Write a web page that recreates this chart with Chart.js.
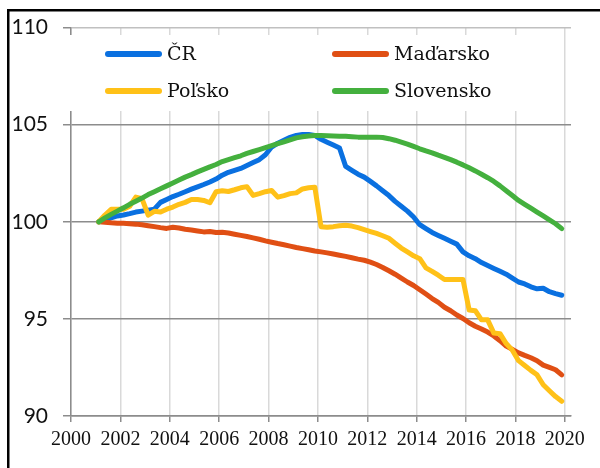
<!DOCTYPE html>
<html lang="sk">
<head>
  <meta charset="UTF-8">
  <title>Index</title>
  <script src="https://cdn.jsdelivr.net/npm/chart.js"></script>
  <style>
    body { margin: 0; background: #fff; }
    #wrap { width: 600px; height: 468px; }
  </style>
</head>
<body>
  <div id="wrap"><canvas id="chart" width="600" height="468"></canvas></div>

  <script>
    // štvrťroky 2001Q1 .. 2019Q4 (bod v strede štvrťroka)
    const years = [2001, 2002, 2003, 2004, 2005, 2006, 2007, 2008, 2009, 2010,
                   2011, 2012, 2013, 2014, 2015, 2016, 2017, 2018, 2019];
    const quarters = [];
    years.forEach(y => { for (let q = 0; q < 4; q++) quarters.push(y + (q + 0.5) / 4); });

    const xTicks = [2000, 2002, 2004, 2006, 2008, 2010, 2012, 2014, 2016, 2018, 2020];
    const yTicks = [90, 95, 100, 105, 110];

    const seriesNames = ['ČR', 'Maďarsko', 'Poľsko', 'Slovensko'];
    const seriesColors = ['#0a70e0', '#e04f14', '#ffc118', '#44b03e'];

    const cr = [
      100.0, 100.1, 100.2, 100.3,   100.35, 100.42, 100.5, 100.55,
      100.6, 100.65, 101.0, 101.15,  101.3, 101.42, 101.55, 101.68,
      101.8, 101.92, 102.05, 102.2,  102.4, 102.55, 102.65, 102.75,
      102.9, 103.05, 103.2, 103.45,  103.85, 104.05, 104.2, 104.35,
      104.45, 104.5, 104.5, 104.45,  104.25, 104.1, 103.95, 103.8,
      102.85, 102.65, 102.45, 102.3,  102.08, 101.85, 101.6, 101.35,
      101.05, 100.8, 100.55, 100.25,  99.85, 99.65, 99.45, 99.3,
      99.15, 99.0, 98.85, 98.45,  98.25, 98.1, 97.9, 97.75,
      97.6, 97.45, 97.3, 97.1,  96.9, 96.8, 96.65, 96.55,
      96.58, 96.4, 96.3, 96.22
    ];
    const madarsko = [
      100.0, 99.98, 99.95, 99.93,  99.92, 99.9, 99.88, 99.85,
      99.8, 99.75, 99.7, 99.66,  99.72, 99.68, 99.62, 99.58,
      99.53, 99.48, 99.5, 99.45,  99.46, 99.42, 99.36, 99.3,
      99.24, 99.17, 99.1, 99.02,  98.95, 98.88, 98.82, 98.75,
      98.68, 98.62, 98.56, 98.5,  98.45, 98.4, 98.34, 98.28,
      98.22, 98.15, 98.08, 98.02,  97.92, 97.8, 97.65, 97.48,
      97.3, 97.1, 96.9, 96.72,  96.5, 96.28, 96.05, 95.85,
      95.6, 95.42, 95.2, 95.02,  94.8, 94.62, 94.48, 94.32,
      94.12, 93.88, 93.6, 93.43,  93.25, 93.12, 93.0, 92.85,
      92.62, 92.5, 92.38, 92.12
    ];
    const polsko = [
      100.0, 100.35, 100.64, 100.64,  100.64, 100.8, 101.27, 101.19,
      100.34, 100.54, 100.5, 100.65,  100.76, 100.9, 101.0, 101.15,
      101.15, 101.1, 100.98, 101.55,  101.6, 101.56, 101.65, 101.75,
      101.81, 101.36, 101.45, 101.55,  101.61, 101.27, 101.35, 101.45,
      101.49, 101.69, 101.75, 101.78,  99.75, 99.72, 99.75, 99.8,
      99.82, 99.78, 99.7, 99.6,  99.5, 99.4, 99.28, 99.15,
      98.9, 98.65, 98.45, 98.25,  98.1, 97.63, 97.45, 97.25,
      97.03, 97.03, 97.03, 97.03,  95.46, 95.42, 94.95, 94.95,
      94.27, 94.24, 93.73, 93.39,  92.85, 92.6, 92.35, 92.12,
      91.61, 91.3, 91.0, 90.76
    ];
    const slovensko = [
      100.0, 100.2, 100.38, 100.55,  100.72, 100.9, 101.06, 101.22,
      101.4, 101.55, 101.7, 101.85,  102.0, 102.15, 102.3, 102.43,
      102.57, 102.7, 102.83, 102.95,  103.1, 103.2, 103.3, 103.4,
      103.52, 103.62, 103.72, 103.82,  103.92, 104.02, 104.12, 104.22,
      104.32, 104.38, 104.42, 104.44,  104.44, 104.43, 104.42, 104.41,
      104.4, 104.38, 104.36, 104.35,  104.35, 104.36, 104.34, 104.28,
      104.2, 104.1, 104.0, 103.88,  103.76, 103.65, 103.55, 103.43,
      103.32, 103.2, 103.07, 102.93,  102.78, 102.62, 102.45, 102.27,
      102.08, 101.85, 101.6, 101.35,  101.1, 100.9, 100.7, 100.5,
      100.3, 100.1, 99.9, 99.65
    ];
    const seriesValues = [cr, madarsko, polsko, slovensko];

    // legenda vnútri grafu, na bielom pozadí
    const legendInside = {
      id: 'legendInside',
      beforeDatasetsDraw(chart) {
        const ctx = chart.ctx;
        const a = chart.chartArea;
        ctx.save();
        ctx.fillStyle = '#fff';
        ctx.fillRect(a.left - 1, 35, 480, 76);
        const cols = [37, 264];
        const rows = [54, 91];
        chart.data.datasets.forEach((ds, i) => {
          const x = a.left + cols[i % 2];
          const y = rows[Math.floor(i / 2)];
          ctx.strokeStyle = ds.borderColor;
          ctx.lineWidth = 6;
          ctx.lineCap = 'round';
          ctx.beginPath();
          ctx.moveTo(x, y);
          ctx.lineTo(x + 51, y);
          ctx.stroke();
          ctx.fillStyle = '#111';
          ctx.font = '19px "DejaVu Serif"';
          ctx.textBaseline = 'middle';
          ctx.fillText(ds.label, x + 59, y + 1);
        });
        ctx.restore();
      }
    };

    // rámik okolo obrázka
    const frame = {
      id: 'frame',
      afterDraw(chart) {
        const ctx = chart.ctx;
        ctx.save();
        ctx.fillStyle = '#000';
        ctx.fillRect(7, 9, 593, 2.5);
        ctx.fillRect(7, 9, 2.5, 459);
        ctx.restore();
      }
    };

    new Chart(document.getElementById('chart'), {
      type: 'line',
      data: {
        datasets: seriesNames.map((name, i) => ({
          label: name,
          data: quarters.map((q, j) => ({ x: q, y: seriesValues[i][j] })),
          borderColor: seriesColors[i],
          backgroundColor: seriesColors[i],
          borderWidth: 5,
          borderCapStyle: 'round',
          borderJoinStyle: 'round',
          pointRadius: 0,
          tension: 0,
          order: 4 - i
        }))
      },
      options: {
        responsive: false,
        animation: false,
        layout: { padding: { left: 0, right: 29, top: 24, bottom: 0 } },
        plugins: { legend: { display: false }, tooltip: { enabled: false } },
        scales: {
          x: {
            type: 'linear',
            min: 2000,
            max: 2020.25,
            afterBuildTicks: s => { s.ticks = xTicks.map(v => ({ value: v })); },
            afterFit: s => { s.height = 52; },
            grid: { color: '#d9d9d9', lineWidth: 1.5, tickColor: '#8c8c8c', tickLength: 6 },
            border: { color: '#8c8c8c', width: 1.5 },
            ticks: {
              color: '#111',
              font: { family: 'Liberation Serif', size: 20 },
              padding: 6,
              maxRotation: 0,
              callback: v => String(v)
            }
          },
          y: {
            min: 90,
            max: 110,
            afterBuildTicks: s => { s.ticks = yTicks.map(v => ({ value: v })); },
            afterFit: s => { s.width = 71; },
            grid: {
              color: c => (c.tick && c.tick.value === 110 ? '#c0c0c0' : '#8c8c8c'),
              lineWidth: 1.5,
              tickColor: '#8c8c8c',
              tickLength: 8
            },
            border: { color: '#8c8c8c', width: 1.5 },
            ticks: {
              color: '#111',
              font: { family: 'Lato', size: 21 },
              padding: 15,
              callback: v => String(v)
            }
          }
        }
      },
      plugins: [legendInside, frame]
    });
  </script>
</body>
</html>
